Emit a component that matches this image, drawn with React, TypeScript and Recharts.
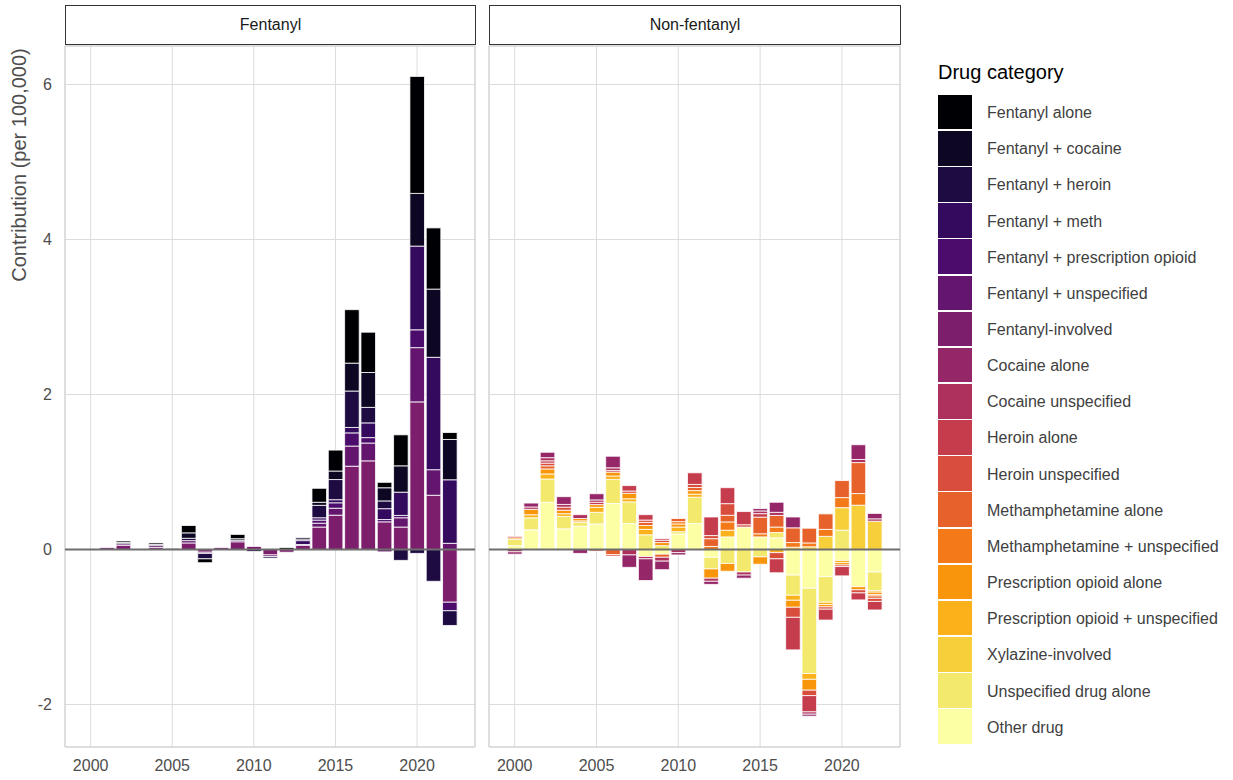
import React from 'react';
import { BarChart, Bar, XAxis, YAxis, CartesianGrid, ReferenceLine, ReferenceArea } from 'recharts';

const YEARS = [2000, 2001, 2002, 2003, 2004, 2005, 2006, 2007, 2008, 2009, 2010, 2011, 2012, 2013, 2014, 2015, 2016, 2017, 2018, 2019, 2020, 2021, 2022];
const X_TICKS = [2000, 2005, 2010, 2015, 2020];
const Y_TICKS = [-2, 0, 2, 4, 6];
const X_DOMAIN = [1998.43, 2023.55];
const Y_DOMAIN = [-2.548, 6.497];

const PANELS = ['Fentanyl', 'Non-fentanyl'];

const CATEGORIES = [
  'Fentanyl alone',
  'Fentanyl + cocaine',
  'Fentanyl + heroin',
  'Fentanyl + meth',
  'Fentanyl + prescription opioid',
  'Fentanyl + unspecified',
  'Fentanyl-involved',
  'Cocaine alone',
  'Cocaine unspecified',
  'Heroin alone',
  'Heroin unspecified',
  'Methamphetamine alone',
  'Methamphetamine + unspecified',
  'Prescription opioid alone',
  'Prescription opioid + unspecified',
  'Xylazine-involved',
  'Unspecified drug alone',
  'Other drug',
];

const COLORS = [
  '#000004', '#0d0723', '#1e0b41', '#340a5f', '#4b0c6b', '#64156e', '#7d1e6d',
  '#952667', '#ae305c', '#c53d4d', '#d94d3d', '#e7622b', '#f47918', '#f9950a',
  '#fbb21a', '#f7cf3a', '#f3e96c', '#fcffa4',
];

// ---- Fentanyl panel (per 100,000), years 2000..2022
const fentanylAlone = [0, 0, 0.02, 0, 0.02, 0, 0.095, -0.05, 0, 0.055, 0, 0, 0.025, 0, 0.18, 0.27, 0.69, 0.52, 0.07, 0.40, 1.51, 0.79, 0.09];
const fentanylCocaine = [0, 0, 0.015, 0, 0, 0, 0.07, 0, 0, 0.02, 0, 0, 0, 0.02, 0.04, 0.11, 0.36, 0.45, 0.17, 0.34, 0.68, 0.88, 0.52];
const fentanylHeroin = [0, 0, 0, 0, 0.015, 0.015, 0.03, -0.07, 0, 0, -0.025, -0.02, 0, 0.02, 0.16, 0.26, 0.47, 0.20, 0.10, -0.14, -0.05, -0.41, -0.19];
const fentanylMeth = [0, 0, 0, 0, 0, 0, 0, 0, 0, 0, 0, 0, 0, 0.05, 0.03, 0.04, 0.07, 0.19, 0.14, 0.30, 1.08, 1.45, 0.82];
const fentanylRx = [0, 0, 0, 0, 0, 0, 0, 0, 0, 0, 0, 0, 0, 0, 0.04, 0.07, 0.17, 0.07, 0.03, 0.03, 0.23, 0, -0.11];
const fentanylUnspecified = [0, 0, 0.02, 0, 0.025, 0, 0.03, -0.015, 0, 0.02, 0, -0.02, 0, 0.01, 0.05, 0.09, 0.26, 0.23, -0.03, 0.12, 0.70, 0.33, 0.08];
const fentanylInvolved = [0, 0.025, 0.055, 0, 0.025, 0, 0.085, -0.035, 0.025, 0.10, 0.04, -0.07, -0.035, 0.055, 0.29, 0.443, 1.075, 1.144, 0.357, 0.29, 1.905, 0.70, -0.68];

// ---- Non-fentanyl panel
const cocaineAlone = [-0.03, 0.05, 0.07, 0.10, -0.05, 0.08, 0.15, -0.16, -0.28, -0.11, -0.03, 0, -0.04, 0, -0.04, 0.03, 0.13, 0.14, -0.025, 0, 0, 0.19, 0.07];
const cocaineUnspecified = [-0.03, 0.03, 0.04, 0.035, 0.05, 0.03, 0.035, -0.07, -0.03, -0.05, -0.04, 0, -0.04, 0, -0.04, 0.035, 0.04, 0, -0.03, 0, 0, 0.04, 0.03];
const heroinAlone = [0, 0, 0.03, 0, 0, 0.03, 0.02, 0.07, 0.07, 0.02, 0, 0.15, 0.24, 0.206, 0.17, 0.045, -0.18, -0.42, -0.21, -0.14, -0.12, -0.09, -0.11];
const heroinUnspecified = [0.02, 0, 0.035, 0.04, 0, -0.02, -0.02, 0.03, 0.03, 0.03, 0, 0.04, 0.04, 0.15, 0.03, 0, -0.08, -0.13, -0.07, -0.03, -0.02, -0.04, -0.04];
const methAlone = [0, 0, 0.04, 0, 0, 0, -0.065, 0, 0.04, -0.04, 0.04, 0.04, 0.10, 0.086, 0, 0.215, 0.15, 0.19, 0.19, 0.20, 0.22, 0.40, -0.03];
const methUnspecified = [0, 0, 0, 0, 0, 0, 0, 0, 0, 0, 0.03, 0, 0.04, 0.107, 0, 0.04, 0.07, 0.06, 0.05, 0.09, 0.13, 0.15, -0.02];
const rxAlone = [0.02, 0.07, 0.065, 0.045, 0.03, 0.035, 0.05, 0.07, 0.05, 0.04, 0.04, 0.045, -0.12, -0.10, 0, -0.095, 0, -0.09, -0.14, -0.03, -0.03, -0.04, -0.03];
const rxUnspecified = [0, 0.04, 0.065, 0.035, 0.02, 0.065, 0.045, 0.04, 0.07, 0, 0.06, 0.04, 0, 0.086, 0, 0, -0.04, -0.065, -0.075, -0.03, -0.03, 0, -0.02];
const xylazineInvolved = [0, 0, 0, 0, 0, 0, 0, 0, 0, 0, 0, 0, 0, 0, 0, 0, 0, 0.03, 0.035, 0.17, 0.29, 0.572, 0.366];
const unspecifiedDrug = [0.08, 0.155, 0.30, 0.16, 0.05, 0.15, 0.31, 0.28, 0.19, 0.05, 0.03, 0.34, -0.15, -0.18, -0.29, -0.095, 0.07, -0.26, -1.10, -0.33, 0.25, 0, -0.24];
const otherDrug = [0.05, 0.254, 0.61, 0.267, 0.30, 0.33, 0.594, 0.335, -0.09, -0.06, 0.20, 0.335, -0.10, 0.163, 0.29, 0.163, 0.15, -0.33, -0.50, -0.35, -0.14, -0.48, -0.29];

const FENTANYL_SERIES = [fentanylAlone, fentanylCocaine, fentanylHeroin, fentanylMeth, fentanylRx, fentanylUnspecified, fentanylInvolved];
const FENTANYL_CATS = [0, 1, 2, 3, 4, 5, 6];
const NONFENT_SERIES = [cocaineAlone, cocaineUnspecified, heroinAlone, heroinUnspecified, methAlone, methUnspecified, rxAlone, rxUnspecified, xylazineInvolved, unspecifiedDrug, otherDrug];
const NONFENT_CATS = [7, 8, 9, 10, 11, 12, 13, 14, 15, 16, 17];

function buildRows(series: number[][], cats: number[]) {
  return YEARS.map((year, i) => {
    const row: Record<string, number> = { year };
    cats.forEach((c, j) => {
      row['k' + c] = series[j][i];
    });
    return row;
  });
}

const FONT = '"Liberation Sans", Arial, Helvetica, sans-serif';
const TICK_STYLE = { fill: '#4d4d4d', fontSize: 16, fontFamily: FONT };

function Panel(props: { left: number; width: number; rows: any[]; cats: number[]; showY: boolean; title: string }) {
  const { left, width, rows, cats, showY, title } = props;
  const order = [...cats].reverse();
  const plotLeft = showY ? 65 : 5;
  return (
    <div style={{ position: 'absolute', left, top: 0, width, height: 780 }}>
      <div
        style={{
          position: 'absolute',
          left: plotLeft,
          top: 5,
          width: width - plotLeft - 5 + 1,
          height: 40,
          boxSizing: 'border-box',
          border: '1.5px solid #333333',
          background: '#ffffff',
          fontFamily: FONT,
          fontSize: 16,
          color: '#1a1a1a',
          display: 'flex',
          alignItems: 'center',
          justifyContent: 'center',
        }}
      >
        {title}
      </div>
      <BarChart
        width={width}
        height={780}
        data={rows}
        stackOffset="sign"
        barSize={14.6}
        margin={{ top: 46, right: 5, bottom: 3, left: showY ? 0 : 5 }}
      >
        <ReferenceArea x1={X_DOMAIN[0]} x2={X_DOMAIN[1]} y1={Y_DOMAIN[0]} y2={Y_DOMAIN[1]} fill="#ffffff" fillOpacity={0} stroke="#cfcfcf" strokeWidth={1} />
        <CartesianGrid stroke="#dcdcdc" strokeWidth={1} />
        <XAxis
          type="number"
          dataKey="year"
          domain={X_DOMAIN}
          ticks={X_TICKS}
          interval={0}
          allowDataOverflow
          axisLine={false}
          tickLine={false}
          tickSize={0}
          tickMargin={13}
          height={30}
          tick={TICK_STYLE}
        />
        <YAxis
          type="number"
          domain={Y_DOMAIN}
          ticks={Y_TICKS}
          interval={0}
          allowDataOverflow
          hide={!showY}
          width={showY ? 65 : 0}
          axisLine={false}
          tickLine={false}
          tickSize={0}
          tickMargin={13}
          tick={TICK_STYLE}
        />
        {order.map((c) => (
          <Bar
            key={c}
            dataKey={'k' + c}
            name={CATEGORIES[c]}
            stackId="s"
            fill={COLORS[c]}
            stroke="#ffffff"
            strokeWidth={0.8}
            isAnimationActive={false}
          />
        ))}
        <ReferenceLine y={0} stroke="#6e6e6e" strokeWidth={2} />
      </BarChart>
    </div>
  );
}

function LegendBlock() {
  return (
    <div style={{ position: 'absolute', left: 938, top: 0, fontFamily: FONT }}>
      <div style={{ position: 'absolute', left: 0, top: 62, fontSize: 20, lineHeight: '20px', color: '#000', whiteSpace: 'nowrap' }}>
        Drug category
      </div>
      {CATEGORIES.map((name, i) => {
        const top = 94.8 + i * 36.15;
        return (
          <div key={name}>
            <div style={{ position: 'absolute', left: 0, top, width: 34, height: 34.6, background: COLORS[i] }} />
            <div
              style={{
                position: 'absolute',
                left: 49,
                top: top + 17.3 - 9,
                height: 20,
                lineHeight: '20px',
                fontSize: 16,
                color: '#404040',
                whiteSpace: 'nowrap',
              }}
            >
              {name}
            </div>
          </div>
        );
      })}
    </div>
  );
}

export default function App() {
  const fentRows = buildRows(FENTANYL_SERIES, FENTANYL_CATS);
  const nonRows = buildRows(NONFENT_SERIES, NONFENT_CATS);
  return (
    <div style={{ position: 'fixed', left: 0, top: 0, width: 1233, height: 780, background: '#ffffff', overflow: 'hidden' }}>
      <Panel left={0} width={480} rows={fentRows} cats={FENTANYL_CATS} showY={true} title={PANELS[0]} />
      <Panel left={484} width={421} rows={nonRows} cats={NONFENT_CATS} showY={false} title={PANELS[1]} />
      <div
        style={{
          position: 'absolute',
          left: 19,
          top: 165,
          transform: 'translate(-50%, -50%) rotate(-90deg)',
          fontFamily: FONT,
          fontSize: 20,
          color: '#4d4d4d',
          whiteSpace: 'nowrap',
        }}
      >
        Contribution (per 100,000)
      </div>
      <LegendBlock />
    </div>
  );
}
